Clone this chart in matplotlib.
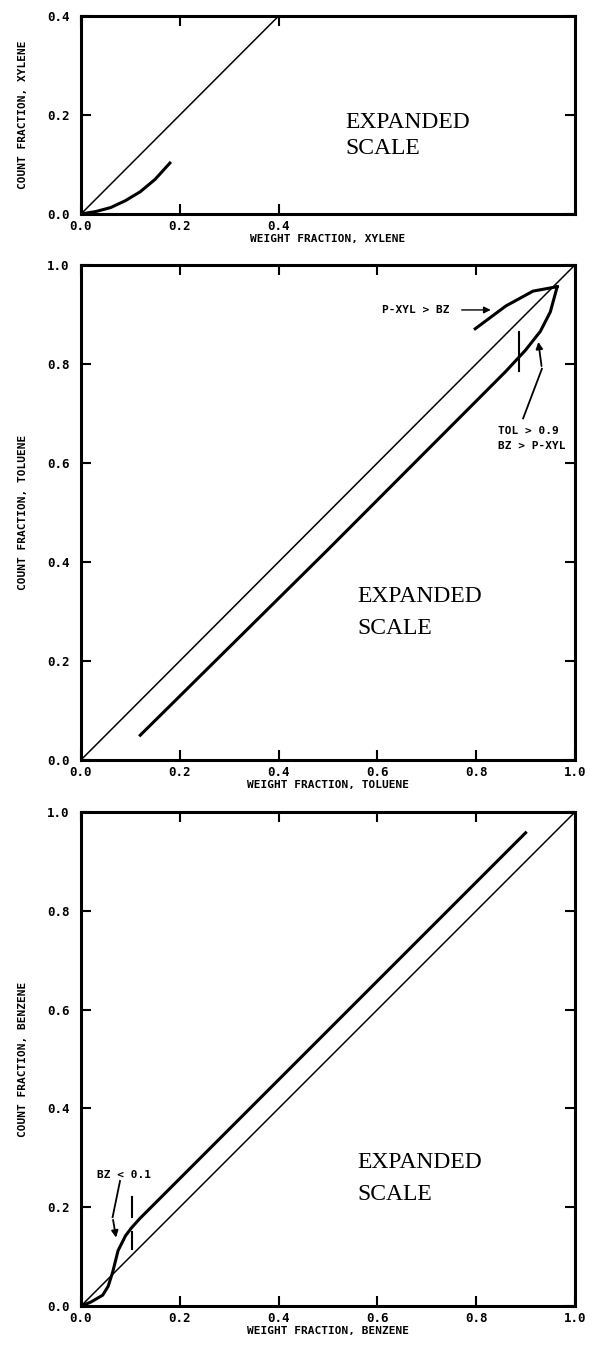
import matplotlib
matplotlib.use('Agg')
import matplotlib.pyplot as plt

# xylene (top) - measured curve
xyl_w = [0.0, 0.03, 0.06, 0.09, 0.12, 0.15, 0.18]
xyl_c = [0.0, 0.005, 0.013, 0.027, 0.045, 0.07, 0.103]

# toluene (middle)
tol_w = [0.12, 0.5, 0.8, 0.86, 0.9, 0.93, 0.95, 0.964]
tol_c = [0.05, 0.425, 0.725, 0.785, 0.828, 0.866, 0.905, 0.956]
pxyl_w = [0.798, 0.86, 0.915, 0.964]
pxyl_c = [0.871, 0.917, 0.947, 0.956]

# benzene (bottom)
bz_w = [0.0, 0.02, 0.044, 0.055, 0.064, 0.075, 0.09, 0.102, 0.119, 0.2, 0.44, 0.9]
bz_c = [0.0, 0.008, 0.022, 0.04, 0.068, 0.112, 0.142, 0.158, 0.177, 0.258, 0.498, 0.958]

ticks_full = [0.0, 0.2, 0.4, 0.6, 0.8, 1.0]
ticks_xyl = [0.0, 0.2, 0.4]

mono = 'DejaVu Sans Mono'
serif = 'Liberation Serif'

fig = plt.figure(figsize=(5.95, 13.46), dpi=100)
fig.patch.set_facecolor('white')

def setup(ax, xt, yt, xlim, ylim, xlabel, ylabel):
    ax.set_xlim(*xlim)
    ax.set_ylim(*ylim)
    ax.set_xticks(xt)
    ax.set_yticks(yt)
    ax.set_xticklabels(['%.1f' % t for t in xt], family=mono, weight='bold', fontsize=9)
    ax.set_yticklabels(['%.1f' % t for t in yt], family=mono, weight='bold', fontsize=9)
    ax.tick_params(direction='in', length=7, width=1.5, top=True, right=True)
    ax.tick_params(axis='x', pad=4)
    ax.tick_params(axis='y', pad=8)
    for s in ax.spines.values():
        s.set_linewidth(2.2)
    ax.set_xlabel(xlabel, family=mono, weight='bold', fontsize=8, labelpad=1)
    ax.set_ylabel(ylabel, family=mono, weight='bold', fontsize=8, labelpad=14)

def expanded(ax, x, y1, y2):
    ax.text(x, y1, 'EXPANDED', family=serif, fontsize=17, va='center', ha='left')
    ax.text(x, y2, 'SCALE', family=serif, fontsize=17, va='center', ha='left')

thin = 1.1
thick = 2.2

# ---- top : xylene
ax1 = fig.add_axes([0.1361, 0.841, 0.8303, 0.1471])
ax1.plot([0, 0.4], [0, 0.4], color='k', lw=thin)
ax1.plot(xyl_w, xyl_c, color='k', lw=thick)
setup(ax1, ticks_xyl, ticks_xyl, (0, 1.0), (0, 0.4),
      'WEIGHT FRACTION, XYLENE', 'COUNT FRACTION, XYLENE')
expanded(ax1, 0.536, 0.185, 0.132)

# ---- middle : toluene
ax2 = fig.add_axes([0.1361, 0.4354, 0.8303, 0.3678])
ax2.plot([0, 1], [0, 1], color='k', lw=thin)
ax2.plot(tol_w, tol_c, color='k', lw=thick)
ax2.plot(pxyl_w, pxyl_c, color='k', lw=thick)
ax2.plot([0.887, 0.887], [0.785, 0.865], color='k', lw=1.5)
setup(ax2, ticks_full, ticks_full, (0, 1), (0, 1),
      'WEIGHT FRACTION, TOLUENE', 'COUNT FRACTION, TOLUENE')
expanded(ax2, 0.56, 0.33, 0.265)
ax2.text(0.745, 0.909, 'P-XYL > BZ', family=mono, weight='bold', fontsize=8,
         ha='right', va='center')
ax2.annotate('', xy=(0.835, 0.909), xytext=(0.765, 0.909),
             arrowprops=dict(arrowstyle='-|>', color='k', lw=1.0, mutation_scale=10))
ax2.plot([0.895, 0.933], [0.69, 0.79], color='k', lw=1.3)
ax2.annotate('', xy=(0.925, 0.85), xytext=(0.933, 0.79),
             arrowprops=dict(arrowstyle='-|>', color='k', lw=1.3, mutation_scale=10))
ax2.text(0.845, 0.665, 'TOL > 0.9', family=mono, weight='bold', fontsize=8,
         ha='left', va='center')
ax2.text(0.845, 0.635, 'BZ > P-XYL', family=mono, weight='bold', fontsize=8,
         ha='left', va='center')

# ---- bottom : benzene
ax3 = fig.add_axes([0.1361, 0.0297, 0.8303, 0.3670])
ax3.plot([0, 1], [0, 1], color='k', lw=thin)
ax3.plot(bz_w, bz_c, color='k', lw=thick)
ax3.plot([0.104, 0.104], [0.18, 0.22], color='k', lw=1.5)
ax3.plot([0.104, 0.104], [0.115, 0.15], color='k', lw=1.5)
setup(ax3, ticks_full, ticks_full, (0, 1), (0, 1),
      'WEIGHT FRACTION, BENZENE', 'COUNT FRACTION, BENZENE')
expanded(ax3, 0.56, 0.29, 0.225)
ax3.text(0.032, 0.265, 'BZ < 0.1', family=mono, weight='bold', fontsize=8,
         ha='left', va='center')
ax3.plot([0.079, 0.064], [0.253, 0.18], color='k', lw=1.3)
ax3.annotate('', xy=(0.072, 0.133), xytext=(0.064, 0.18),
             arrowprops=dict(arrowstyle='-|>', color='k', lw=1.3, mutation_scale=10))

fig.savefig('out.png', dpi=100)
